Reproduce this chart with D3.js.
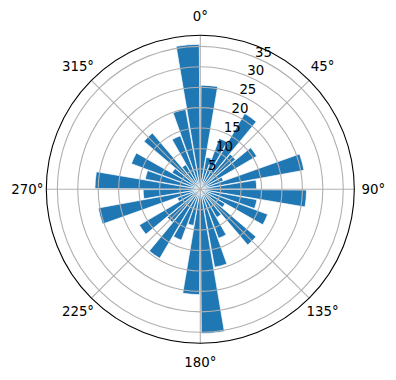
<!DOCTYPE html>
<html><head><meta charset="utf-8">
<script src="https://cdn.jsdelivr.net/npm/d3@7"></script>
<style>body{margin:0;background:#fff}svg{display:block}</style>
</head><body>
<svg id="c" width="396" height="380"></svg>
<script>
// Bar directions (compass degrees, start of each 10° sector) and bar heights
const directions = [0,10,20,30,40,50,60,70,80,90,100,110,120,130,140,150,160,170,
                    180,190,200,210,220,230,240,250,260,270,280,290,300,310,320,330,340,350];
const values = [25.5,8,13.3,21.5,11.3,16,6,25.8,13.8,26,14.1,17.6,7,17.9,8,12.8,19.4,35.3,
                25.8,9,13.3,19.6,10.6,17.3,6,25.4,14,25.8,13.7,18,8,18.1,7,14,19.9,35.5];
const radialTicks = [5,10,15,20,25,30,35];
const angleTicks = [0,45,90,135,180,225,270,315];
const angleLabels = ["0°","45°","90°","135°","180°","225°","270°","315°"];
const rMax = 37.7;

const cx = 200.3, cy = 189.3, R = 154;
const svg = d3.select("#c");
const g = svg.append("g").attr("transform", `translate(${cx},${cy})`);
const r = d3.scaleLinear().domain([0, rMax]).range([0, R]);
const rad = d => d * Math.PI / 180;
const sectorWidth = 10, barWidth = 9.2;

// bars
const arc = d3.arc().innerRadius(0);
g.append("g").selectAll("path").data(directions.map((d,i)=>({dir:d, v:values[i]})))
  .join("path")
  .attr("d", d => arc({
      outerRadius: r(d.v),
      startAngle: rad(d.dir + (sectorWidth - barWidth)/2),
      endAngle: rad(d.dir + (sectorWidth + barWidth)/2)
  }))
  .attr("fill", "#1f77b4")
  .attr("stroke", "#fff").attr("stroke-width", 0.7).attr("stroke-linejoin","miter");

// grid (drawn above the bars)
const grid = g.append("g").attr("fill","none").attr("stroke","#b0b0b0").attr("stroke-width",1.1);
grid.selectAll("circle").data(radialTicks).join("circle").attr("r", d => r(d));
grid.selectAll("line").data(angleTicks).join("line")
  .attr("x1",0).attr("y1",0)
  .attr("x2", d => R*Math.sin(rad(d)))
  .attr("y2", d => -R*Math.cos(rad(d)));

// outer frame
g.append("circle").attr("r", R).attr("fill","none").attr("stroke","#000").attr("stroke-width",1.1);

// angle labels
const font = "DejaVu Sans, sans-serif";
g.append("g").selectAll("text").data(angleTicks).join("text")
  .attr("x", d => 173*Math.sin(rad(d)))
  .attr("y", d => -173*Math.cos(rad(d)))
  .attr("text-anchor","middle").attr("dominant-baseline","central")
  .attr("font-family", font).attr("font-size", 13.33).attr("fill","#000")
  .text((d,i) => angleLabels[i]);

// radial labels along 22.5°
g.append("g").selectAll("text").data(radialTicks).join("text")
  .attr("x", d => r(d)*Math.sin(rad(22.5)))
  .attr("y", d => -r(d)*Math.cos(rad(22.5)) - 0.7)
  .attr("text-anchor","start")
  .attr("font-family", font).attr("font-size", 13.33).attr("fill","#000")
  .text(d => d);
</script>
</body></html>
